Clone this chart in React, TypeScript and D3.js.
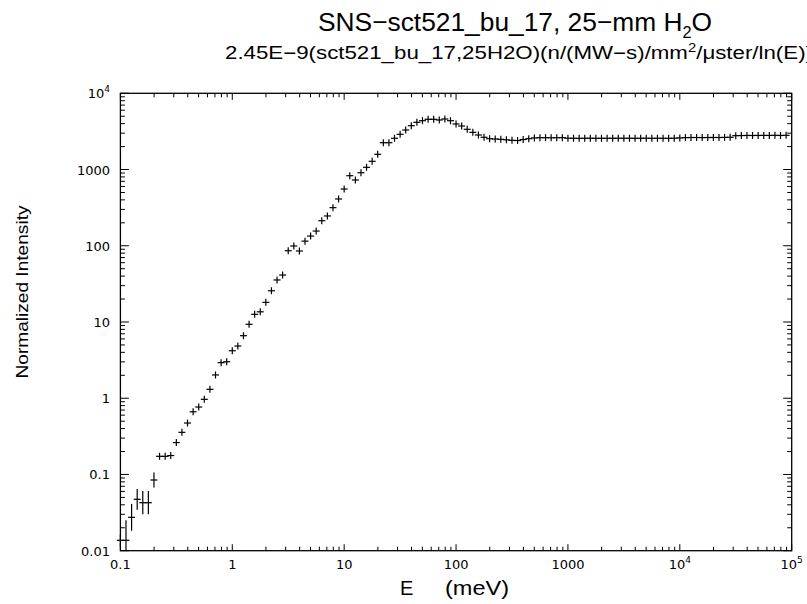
import React from "react";
import * as d3 from "d3";

// Energy grid (meV), 20 bins per decade
const energy: number[] = [
  0.1, 0.1122, 0.1259, 0.1413, 0.1585, 0.1778, 0.1995, 0.2239, 0.2512, 0.2818,
  0.3162, 0.3548, 0.3981, 0.4467, 0.5012, 0.5623, 0.631, 0.7079, 0.7943, 0.8913,
  1, 1.122, 1.259, 1.413, 1.585, 1.778, 1.995, 2.239, 2.512, 2.818,
  3.162, 3.548, 3.981, 4.467, 5.012, 5.623, 6.31, 7.079, 7.943, 8.913,
  10, 11.22, 12.59, 14.13, 15.85, 17.78, 19.95, 22.39, 25.12, 28.18,
  31.62, 35.48, 39.81, 44.67, 50.12, 56.23, 63.1, 70.79, 79.43, 89.13,
  100, 112.2, 125.9, 141.3, 158.5, 177.8, 199.5, 223.9, 251.2, 281.8,
  316.2, 354.8, 398.1, 446.7, 501.2, 562.3, 631, 707.9, 794.3, 891.3,
  1000, 1122, 1259, 1413, 1585, 1778, 1995, 2239, 2512, 2818,
  3162, 3548, 3981, 4467, 5012, 5623, 6310, 7079, 7943, 8913,
  10000, 11220, 12590, 14130, 15850, 17780, 19950, 22390, 25120, 28180,
  31620, 35480, 39810, 44670, 50120, 56230, 63100, 70790, 79430, 89130,
];

// Normalized intensity
const intensity: number[] = [
  0.0137, 0.0137, 0.0274, 0.0472, 0.0426, 0.0426, 0.0846, 0.173, 0.173, 0.177,
  0.262, 0.357, 0.473, 0.664, 0.767, 0.968, 1.31, 2.02, 2.93, 3.01,
  4.2, 4.84, 6.61, 9.33, 12.6, 13.6, 18.1, 25.7, 35.6, 41.3,
  86.1, 99.3, 85.4, 115, 134, 156, 213, 246, 316, 411,
  555, 830, 729, 908, 1069, 1282, 1585, 2249, 2249, 2570,
  2897, 3300, 3758, 4165, 4370, 4560, 4560, 4466, 4600, 4370,
  3957, 3725, 3372, 3077, 2838, 2648, 2537, 2515, 2492, 2455,
  2417, 2400, 2475, 2537, 2600, 2617, 2617, 2610, 2617, 2620,
  2575, 2570, 2565, 2570, 2575, 2570, 2568, 2572, 2570, 2575,
  2570, 2572, 2568, 2570, 2575, 2570, 2572, 2570, 2568, 2575,
  2600, 2620, 2630, 2630, 2625, 2630, 2635, 2630, 2640, 2650,
  2780, 2790, 2800, 2795, 2800, 2805, 2800, 2810, 2800, 2810,
];

// Multiplicative error factor of the first (low-statistics) points
const errorFactor: number[] = [1.2, 1.83, 1.5, 1.37, 1.42, 1.42, 1.25];

const xTickValues: number[] = [0.1, 1, 10, 100, 1000, 1e4, 1e5];
const xTickLabels: [string, string][] = [
  ["0.1", ""], ["1", ""], ["10", ""], ["100", ""], ["1000", ""], ["10", "4"], ["10", "5"],
];
const yTickValues: number[] = [0.01, 0.1, 1, 10, 100, 1000, 1e4];
const yTickLabels: [string, string][] = [
  ["0.01", ""], ["0.1", ""], ["1", ""], ["10", ""], ["100", ""], ["1000", ""], ["10", "4"],
];

const W = 807;
const H = 604;
const L = 120.4, R = 791.7, T = 93.3, B = 550.7;

export default function App() {
  const x = d3.scaleLog().domain([0.1, 1e5]).range([L, R]);
  const y = d3.scaleLog().domain([0.01, 1e4]).range([B, T]);

  const minorX: number[] = [];
  for (let d = -1; d < 5; d++) for (let m = 2; m <= 9; m++) minorX.push(m * Math.pow(10, d));
  const minorY: number[] = [];
  for (let d = -2; d < 4; d++) for (let m = 2; m <= 9; m++) minorY.push(m * Math.pow(10, d));

  const font = "'Liberation Sans', Arial, sans-serif";
  const tickFont = "'DejaVu Sans', sans-serif";
  const stroke = "#000";

  const crosses = energy.map((e, i) => {
    const cx = x(e);
    const cy = y(intensity[i]);
    const f = i < errorFactor.length ? errorFactor[i] : 1;
    const up = Math.max(3.5, cy - y(intensity[i] * f));
    const dn = Math.min(Math.max(3.5, y(intensity[i] / f) - cy), B - cy);
    return (
      <g key={i}>
        <line x1={cx - 3.5} x2={cx + 3.5} y1={cy} y2={cy} />
        <line x1={cx} x2={cx} y1={cy - up} y2={cy + dn} />
      </g>
    );
  });

  return (
    <svg width={W} height={H} style={{ position: "fixed", left: 0, top: 0, background: "#fff" }}>
      <rect width={W} height={H} fill="#fff" />
      {/* Title */}
      <text x={318} y={31} fontFamily={font} fontSize={26} textLength={394} lengthAdjust="spacingAndGlyphs">
        SNS−sct521_bu_17, 25−mm H<tspan dy={7} fontSize={16}>2</tspan><tspan dy={-7}>O</tspan>
      </text>
      <text x={225} y={59} fontFamily={font} fontSize={18} textLength={588} lengthAdjust="spacingAndGlyphs">
        2.45E−9(sct521_bu_17,25H2O)(n/(MW−s)/mm<tspan dy={-7} fontSize={12}>2</tspan><tspan dy={7}>/μster/ln(E))</tspan>
      </text>

      {/* Axes frame */}
      <rect x={L} y={T} width={R - L} height={B - T} fill="none" stroke={stroke} strokeWidth={1.3} />

      <g stroke={stroke} strokeWidth={1}>
        {xTickValues.map((v) => (
          <g key={"xm" + v}>
            <line x1={x(v)} x2={x(v)} y1={B} y2={B - 6.5} />
            <line x1={x(v)} x2={x(v)} y1={T} y2={T + 6.5} />
          </g>
        ))}
        {minorX.map((v) => (
          <g key={"xn" + v}>
            <line x1={x(v)} x2={x(v)} y1={B} y2={B - 4} />
            <line x1={x(v)} x2={x(v)} y1={T} y2={T + 4} />
          </g>
        ))}
        {yTickValues.map((v) => (
          <g key={"ym" + v}>
            <line x1={L} x2={L + 8.5} y1={y(v)} y2={y(v)} />
            <line x1={R} x2={R - 8.5} y1={y(v)} y2={y(v)} />
          </g>
        ))}
        {minorY.map((v) => (
          <g key={"yn" + v}>
            <line x1={L} x2={L + 4.5} y1={y(v)} y2={y(v)} />
            <line x1={R} x2={R - 4.5} y1={y(v)} y2={y(v)} />
          </g>
        ))}
      </g>

      {/* Tick labels */}
      <g fontFamily={tickFont} fontSize={13} fill="#000">
        {xTickValues.map((v, i) => (
          <text key={"xl" + v} x={x(v)} y={569} textAnchor="middle">
            {xTickLabels[i][0]}
            {xTickLabels[i][1] && <tspan dy={-6} fontSize={9}>{xTickLabels[i][1]}</tspan>}
          </text>
        ))}
        {yTickValues.map((v, i) => (
          <text key={"yl" + v} x={110} y={y(v) + 5} textAnchor="end">
            {yTickLabels[i][0]}
            {yTickLabels[i][1] && <tspan dy={-6} fontSize={9}>{yTickLabels[i][1]}</tspan>}
          </text>
        ))}
      </g>

      {/* Axis titles */}
      <text x={400} y={595} fontFamily={font} fontSize={20}>E</text>
      <text x={445} y={595} fontFamily={font} fontSize={20} textLength={64} lengthAdjust="spacingAndGlyphs">(meV)</text>
      <text
        transform="translate(28,292) rotate(-90)"
        textAnchor="middle"
        fontFamily={font}
        fontSize={17}
        textLength={173}
        lengthAdjust="spacingAndGlyphs"
      >
        Normalized Intensity
      </text>

      {/* Data crosses */}
      <g stroke={stroke} strokeWidth={1.2}>{crosses}</g>
    </svg>
  );
}
